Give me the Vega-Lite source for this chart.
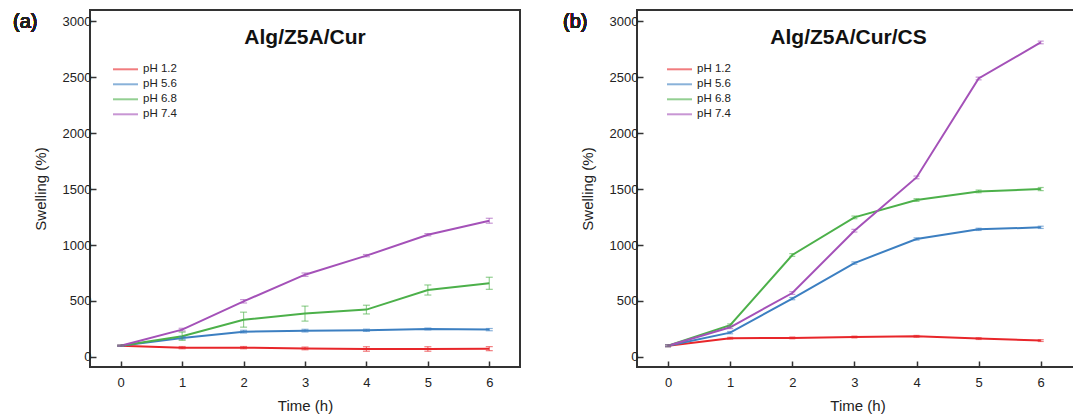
{
  "$schema": "https://vega.github.io/schema/vega-lite/v6.json",
  "padding": {"left": 12, "top": 9, "right": 0, "bottom": 0},
  "background": "white",
  "spacing": 41,
  "config": {
    "font": "Liberation Sans",
    "view": {"stroke": "#333333", "strokeWidth": 2},
    "axis": {
      "domain": false, "grid": false,
      "labelFont": "Liberation Sans", "labelFontSize": 13, "labelColor": "#222222",
      "titleFont": "Liberation Sans", "titleFontSize": 15, "titleFontWeight": "normal", "titleColor": "#222222",
      "tickColor": "#333333", "tickWidth": 1.5, "format": "d"
    },
    "legend": {
      "labelFont": "Liberation Sans", "labelFontSize": 11.5, "labelColor": "#222222",
      "symbolType": "stroke", "symbolStrokeWidth": 2, "symbolSize": 625, "clipHeight": 12.6, "rowPadding": 2
    }
  },
  "datasets": {
    "swell": [
      {"panel": "a", "ph": "pH 1.2", "t": 0, "v": 100, "e": 5},
      {"panel": "a", "ph": "pH 1.2", "t": 1, "v": 83, "e": 10},
      {"panel": "a", "ph": "pH 1.2", "t": 2, "v": 83, "e": 10},
      {"panel": "a", "ph": "pH 1.2", "t": 3, "v": 76, "e": 12},
      {"panel": "a", "ph": "pH 1.2", "t": 4, "v": 71, "e": 20},
      {"panel": "a", "ph": "pH 1.2", "t": 5, "v": 71, "e": 20},
      {"panel": "a", "ph": "pH 1.2", "t": 6, "v": 74, "e": 18},
      {"panel": "a", "ph": "pH 5.6", "t": 0, "v": 100, "e": 5},
      {"panel": "a", "ph": "pH 5.6", "t": 1, "v": 170, "e": 12},
      {"panel": "a", "ph": "pH 5.6", "t": 2, "v": 226, "e": 12},
      {"panel": "a", "ph": "pH 5.6", "t": 3, "v": 235, "e": 12},
      {"panel": "a", "ph": "pH 5.6", "t": 4, "v": 238, "e": 10},
      {"panel": "a", "ph": "pH 5.6", "t": 5, "v": 250, "e": 8},
      {"panel": "a", "ph": "pH 5.6", "t": 6, "v": 244, "e": 10},
      {"panel": "a", "ph": "pH 6.8", "t": 0, "v": 100, "e": 5},
      {"panel": "a", "ph": "pH 6.8", "t": 1, "v": 185, "e": 37},
      {"panel": "a", "ph": "pH 6.8", "t": 2, "v": 333, "e": 67},
      {"panel": "a", "ph": "pH 6.8", "t": 3, "v": 387, "e": 67},
      {"panel": "a", "ph": "pH 6.8", "t": 4, "v": 423, "e": 39},
      {"panel": "a", "ph": "pH 6.8", "t": 5, "v": 598, "e": 45},
      {"panel": "a", "ph": "pH 6.8", "t": 6, "v": 658, "e": 54},
      {"panel": "a", "ph": "pH 7.4", "t": 0, "v": 100, "e": 5},
      {"panel": "a", "ph": "pH 7.4", "t": 1, "v": 244, "e": 12},
      {"panel": "a", "ph": "pH 7.4", "t": 2, "v": 497, "e": 15},
      {"panel": "a", "ph": "pH 7.4", "t": 3, "v": 735, "e": 15},
      {"panel": "a", "ph": "pH 7.4", "t": 4, "v": 905, "e": 10},
      {"panel": "a", "ph": "pH 7.4", "t": 5, "v": 1092, "e": 10},
      {"panel": "a", "ph": "pH 7.4", "t": 6, "v": 1217, "e": 22},
      {"panel": "b", "ph": "pH 1.2", "t": 0, "v": 100, "e": 8},
      {"panel": "b", "ph": "pH 1.2", "t": 1, "v": 167, "e": 8},
      {"panel": "b", "ph": "pH 1.2", "t": 2, "v": 170, "e": 8},
      {"panel": "b", "ph": "pH 1.2", "t": 3, "v": 178, "e": 8},
      {"panel": "b", "ph": "pH 1.2", "t": 4, "v": 184, "e": 8},
      {"panel": "b", "ph": "pH 1.2", "t": 5, "v": 164, "e": 8},
      {"panel": "b", "ph": "pH 1.2", "t": 6, "v": 146, "e": 8},
      {"panel": "b", "ph": "pH 5.6", "t": 0, "v": 100, "e": 8},
      {"panel": "b", "ph": "pH 5.6", "t": 1, "v": 217, "e": 10},
      {"panel": "b", "ph": "pH 5.6", "t": 2, "v": 521, "e": 10},
      {"panel": "b", "ph": "pH 5.6", "t": 3, "v": 839, "e": 10},
      {"panel": "b", "ph": "pH 5.6", "t": 4, "v": 1054, "e": 10},
      {"panel": "b", "ph": "pH 5.6", "t": 5, "v": 1140, "e": 10},
      {"panel": "b", "ph": "pH 5.6", "t": 6, "v": 1158, "e": 10},
      {"panel": "b", "ph": "pH 6.8", "t": 0, "v": 100, "e": 8},
      {"panel": "b", "ph": "pH 6.8", "t": 1, "v": 283, "e": 12},
      {"panel": "b", "ph": "pH 6.8", "t": 2, "v": 911, "e": 12},
      {"panel": "b", "ph": "pH 6.8", "t": 3, "v": 1247, "e": 12},
      {"panel": "b", "ph": "pH 6.8", "t": 4, "v": 1402, "e": 12},
      {"panel": "b", "ph": "pH 6.8", "t": 5, "v": 1479, "e": 12},
      {"panel": "b", "ph": "pH 6.8", "t": 6, "v": 1500, "e": 14},
      {"panel": "b", "ph": "pH 7.4", "t": 0, "v": 100, "e": 8},
      {"panel": "b", "ph": "pH 7.4", "t": 1, "v": 265, "e": 12},
      {"panel": "b", "ph": "pH 7.4", "t": 2, "v": 571, "e": 12},
      {"panel": "b", "ph": "pH 7.4", "t": 3, "v": 1128, "e": 12},
      {"panel": "b", "ph": "pH 7.4", "t": 4, "v": 1604, "e": 12},
      {"panel": "b", "ph": "pH 7.4", "t": 5, "v": 2488, "e": 12},
      {"panel": "b", "ph": "pH 7.4", "t": 6, "v": 2810, "e": 12}
    ]
  },
  "resolve": {"scale": {"color": "independent"}, "legend": {"color": "independent"}},
  "hconcat": [
    {
      "width": 430, "height": 357,
      "title": {"text": "Alg/Z5A/Cur", "fontSize": 21, "fontWeight": "bold", "color": "#111111", "anchor": "middle", "frame": "group", "offset": -55, "baseline": "alphabetic"},
      "data": {"name": "swell"},
      "transform": [{"filter": "datum.panel === 'a'"}],
      "layer": [
        {
          "mark": {"type": "line", "strokeWidth": 2},
          "encoding": {
            "x": {"field": "t", "type": "quantitative", "title": "Time (h)", "scale": {"domain": [-0.5, 6.5], "nice": false, "zero": false},
              "axis": {"values": [0, 0.5, 1, 1.5, 2, 2.5, 3, 3.5, 4, 4.5, 5, 5.5, 6], "labelExpr": "datum.value % 1 === 0 ? datum.label : ''",
                "tickSize": {"condition": {"test": "datum.value % 1 === 0", "value": -6}, "value": -3},
                "labelPadding": 15, "titlePadding": 9}},
            "y": {"field": "v", "type": "quantitative", "title": "Swelling (%)", "scale": {"domain": [-90, 3100], "nice": false, "zero": false},
              "axis": {"values": [0, 250, 500, 750, 1000, 1250, 1500, 1750, 2000, 2250, 2500, 2750, 3000], "labelExpr": "datum.value % 500 === 0 ? datum.label : ''",
                "tickSize": {"condition": {"test": "datum.value % 500 === 0", "value": -6}, "value": -3},
                "labelPadding": 5, "titlePadding": 14}},
            "color": {"field": "ph", "type": "nominal",
              "scale": {"domain": ["pH 1.2", "pH 5.6", "pH 6.8", "pH 7.4"], "range": ["#e8262a", "#3c7fc1", "#4cb04a", "#a451b8"]},
              "legend": {"title": null, "orient": "none", "legendX": 22, "legendY": 53}}
          }
        },
        {
          "mark": {"type": "errorbar", "ticks": {"size": 7}, "opacity": 0.6, "thickness": 1.2},
          "encoding": {
            "x": {"field": "t", "type": "quantitative", "title": "Time (h)"},
            "y": {"field": "v", "type": "quantitative", "title": "Swelling (%)"},
            "yError": {"field": "e"},
            "color": {"field": "ph", "type": "nominal"}
          }
        },
        {
          "mark": {"type": "text", "fontSize": 20, "fontWeight": "normal", "align": "left", "baseline": "middle", "color": "#222222"},
          "encoding": {
            "x": {"datum": -1.753, "type": "quantitative"},
            "y": {"datum": 2990, "type": "quantitative"},
            "text": {"value": "(a)"}
          }
        }
      ]
    },
    {
      "width": 441, "height": 357,
      "title": {"text": "Alg/Z5A/Cur/CS", "fontSize": 21, "fontWeight": "bold", "color": "#111111", "anchor": "middle", "frame": "group", "offset": -55, "baseline": "alphabetic", "dx": -9},
      "data": {"name": "swell"},
      "transform": [{"filter": "datum.panel === 'b'"}],
      "layer": [
        {
          "mark": {"type": "line", "strokeWidth": 2},
          "encoding": {
            "x": {"field": "t", "type": "quantitative", "title": "Time (h)", "scale": {"domain": [-0.5, 6.6], "nice": false, "zero": false},
              "axis": {"values": [0, 0.5, 1, 1.5, 2, 2.5, 3, 3.5, 4, 4.5, 5, 5.5, 6], "labelExpr": "datum.value % 1 === 0 ? datum.label : ''",
                "tickSize": {"condition": {"test": "datum.value % 1 === 0", "value": -6}, "value": -3},
                "labelPadding": 15, "titlePadding": 9}},
            "y": {"field": "v", "type": "quantitative", "title": "Swelling (%)", "scale": {"domain": [-90, 3100], "nice": false, "zero": false},
              "axis": {"values": [0, 250, 500, 750, 1000, 1250, 1500, 1750, 2000, 2250, 2500, 2750, 3000], "labelExpr": "datum.value % 500 === 0 ? datum.label : ''",
                "tickSize": {"condition": {"test": "datum.value % 500 === 0", "value": -6}, "value": -3},
                "labelPadding": 5, "titlePadding": 14}},
            "color": {"field": "ph", "type": "nominal",
              "scale": {"domain": ["pH 1.2", "pH 5.6", "pH 6.8", "pH 7.4"], "range": ["#e8262a", "#3c7fc1", "#4cb04a", "#a451b8"]},
              "legend": {"title": null, "orient": "none", "legendX": 29, "legendY": 53}}
          }
        },
        {
          "mark": {"type": "errorbar", "ticks": {"size": 6}, "opacity": 0.6, "thickness": 1.2},
          "encoding": {
            "x": {"field": "t", "type": "quantitative", "title": "Time (h)"},
            "y": {"field": "v", "type": "quantitative", "title": "Swelling (%)"},
            "yError": {"field": "e"},
            "color": {"field": "ph", "type": "nominal"}
          }
        },
        {
          "mark": {"type": "text", "fontSize": 20, "fontWeight": "normal", "align": "left", "baseline": "middle", "color": "#222222"},
          "encoding": {
            "x": {"datum": -1.69, "type": "quantitative"},
            "y": {"datum": 2990, "type": "quantitative"},
            "text": {"value": "(b)"}
          }
        }
      ]
    }
  ]
}
